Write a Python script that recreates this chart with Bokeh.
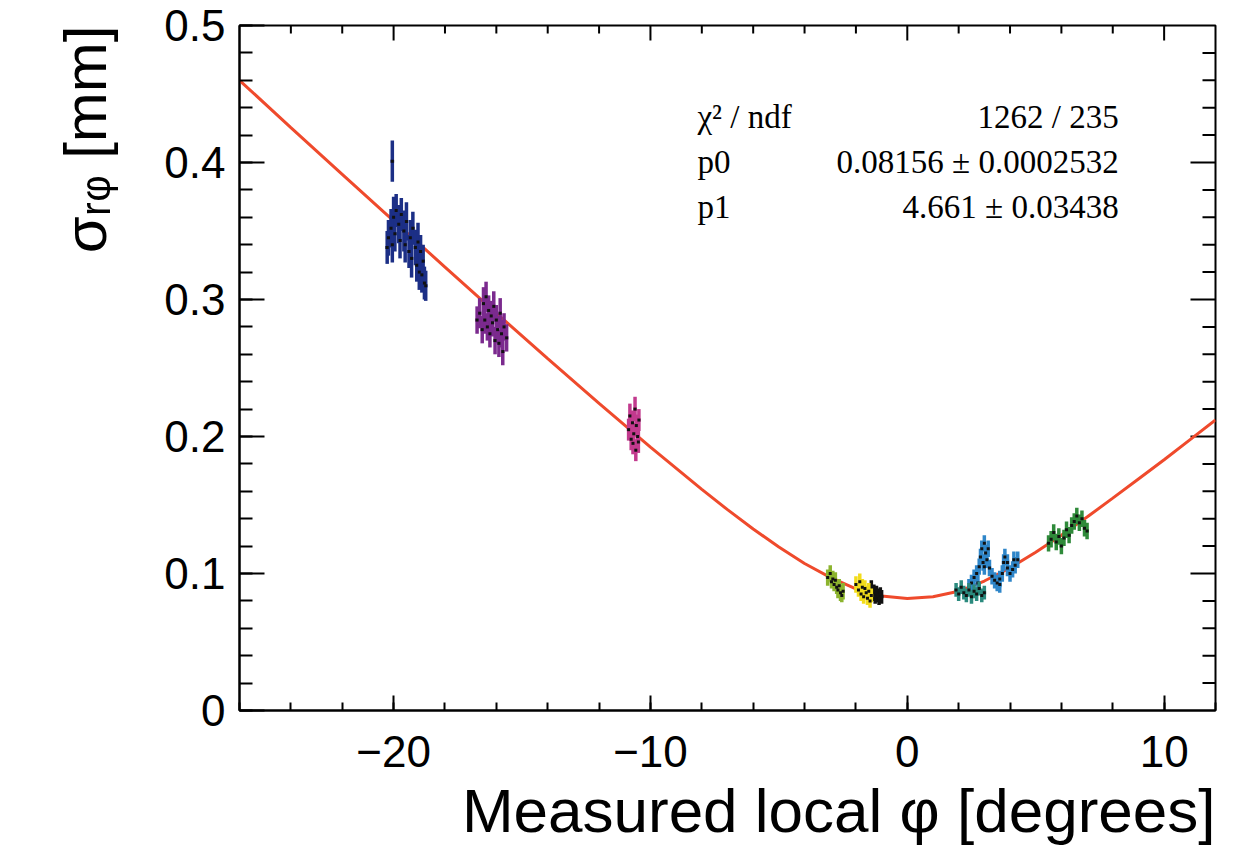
from bokeh.plotting import figure
from bokeh.models import Range1d, SingleIntervalTicker, Label, Title
from bokeh.embed import file_html
from bokeh.resources import INLINE
import numpy as np

# ---- fit curve ----
fit_phi = [-26, -24, -22, -20, -18, -16, -14, -12, -10, -8, -7, -6, -5, -4, -3, -2, -1, 0,
           1, 2, 3, 4, 5, 6, 7, 8, 9, 10, 11, 12]
fit_sigma = [0.460, 0.4255, 0.3914, 0.3574, 0.3237, 0.2901, 0.2569, 0.2242, 0.1922, 0.1614,
             0.1466, 0.1325, 0.1193, 0.1073, 0.0972, 0.0887, 0.0835, 0.0818,
             0.0830, 0.0870, 0.0945, 0.1040, 0.1155, 0.1280, 0.1412, 0.1550, 0.1690,
             0.1830, 0.1975, 0.2120]

# ---- data clusters ----
navy_phi = [-20.05, -20.25, -20.2, -20.1, -20.05, -20.0, -19.95, -19.9, -19.8, -19.75, -19.7, -19.6,
            -19.55, -19.5, -19.4, -19.35, -19.3, -19.25, -19.15, -19.1, -19.05, -19.0, -18.95,
            -18.9, -18.85, -18.8, -18.75]
navy_sigma = [0.401, 0.338, 0.345, 0.352, 0.340, 0.360, 0.348, 0.365, 0.355, 0.343, 0.362, 0.350,
              0.340, 0.357, 0.335, 0.345, 0.330, 0.352, 0.338, 0.325, 0.342, 0.320, 0.335,
              0.318, 0.328, 0.312, 0.310]
navy_err = [0.015, 0.012, 0.013, 0.014, 0.013, 0.015, 0.013, 0.012, 0.014, 0.013, 0.012, 0.015,
            0.013, 0.014, 0.012, 0.013, 0.014, 0.012, 0.013, 0.012, 0.014, 0.013, 0.012,
            0.013, 0.012, 0.012, 0.011]

purple_phi = [-16.75, -16.65, -16.55, -16.5, -16.45, -16.4, -16.35, -16.3, -16.25, -16.2, -16.15,
              -16.1, -16.05, -16.0, -15.95, -15.9, -15.85, -15.8, -15.75, -15.7, -15.6]
purple_sigma = [0.285, 0.290, 0.278, 0.297, 0.285, 0.302, 0.280, 0.292, 0.275, 0.288, 0.283,
                0.295, 0.270, 0.285, 0.278, 0.268, 0.290, 0.275, 0.262, 0.280, 0.272]
purple_err = [0.010, 0.011, 0.010, 0.012, 0.010, 0.011, 0.010, 0.011, 0.010, 0.011, 0.010,
              0.011, 0.010, 0.011, 0.010, 0.010, 0.011, 0.010, 0.010, 0.010, 0.010]

magenta_phi = [-10.85, -10.8, -10.75, -10.7, -10.68, -10.65, -10.6, -10.57, -10.55, -10.5, -10.47, -10.45]
magenta_sigma = [0.205, 0.215, 0.198, 0.210, 0.195, 0.202, 0.220, 0.190, 0.208, 0.200, 0.196, 0.212]
magenta_err = [0.008, 0.009, 0.008, 0.009, 0.008, 0.008, 0.009, 0.008, 0.008, 0.009, 0.008, 0.008]

lime_phi = [-3.1, -3.0, -2.95, -2.9, -2.85, -2.8, -2.75, -2.7, -2.65, -2.6, -2.55, -2.5]
lime_sigma = [0.097, 0.100, 0.094, 0.096, 0.092, 0.095, 0.090, 0.088, 0.091, 0.086, 0.084, 0.087]
lime_err = [0.006, 0.006, 0.005, 0.006, 0.005, 0.006, 0.005, 0.006, 0.005, 0.006, 0.005, 0.006]

black_phi = [-1.5, -1.4, -1.35, -1.3, -1.25, -1.2, -1.15, -1.1, -1.05, -1.0]
black_sigma = [0.088, 0.090, 0.085, 0.087, 0.083, 0.086, 0.084, 0.082, 0.085, 0.083]
black_err = [0.005, 0.005, 0.005, 0.005, 0.005, 0.005, 0.005, 0.005, 0.005, 0.005]

yellow_phi = [-2.0, -1.9, -1.85, -1.8, -1.75, -1.7, -1.65, -1.6, -1.55, -1.5, -1.45, -1.4]
yellow_sigma = [0.092, 0.088, 0.094, 0.085, 0.090, 0.083, 0.089, 0.086, 0.082, 0.087, 0.080, 0.084]
yellow_err = [0.006, 0.005, 0.006, 0.005, 0.006, 0.005, 0.006, 0.005, 0.005, 0.006, 0.005, 0.005]

sky_phi = [2.4, 2.5, 2.6, 2.7, 2.75, 2.8, 2.85, 2.9, 2.95, 3.0, 3.0, 3.05, 3.1, 3.15, 3.2, 3.3,
           3.4, 3.5, 3.6, 3.6, 3.7, 3.75, 3.8, 3.9, 3.9, 4.0, 4.1, 4.15, 4.2, 4.3]
sky_sigma = [0.090, 0.093, 0.097, 0.100, 0.093, 0.105, 0.112, 0.118, 0.108, 0.122, 0.105, 0.115,
             0.110, 0.118, 0.104, 0.098, 0.095, 0.093, 0.096, 0.092, 0.100, 0.108, 0.112,
             0.104, 0.108, 0.100, 0.103, 0.110, 0.106, 0.110]
sky_err = [0.006] * 30

teal_phi = [1.9, 2.0, 2.1, 2.2, 2.3, 2.4, 2.5, 2.6, 2.7, 2.8, 2.9, 3.0]
teal_sigma = [0.088, 0.085, 0.090, 0.086, 0.084, 0.088, 0.083, 0.087, 0.085, 0.089, 0.084, 0.086]
teal_err = [0.005] * 12

green_phi = [5.5, 5.6, 5.7, 5.8, 5.9, 6.0, 6.1, 6.2, 6.3, 6.4, 6.5, 6.6, 6.7, 6.8, 6.9, 7.0]
green_sigma = [0.122, 0.125, 0.130, 0.123, 0.127, 0.120, 0.126, 0.132, 0.128, 0.135, 0.138, 0.142,
               0.137, 0.140, 0.133, 0.131]
green_err = [0.006] * 16

# ---- stats box ----
stat_names = ["χ² / ndf", "p0", "p1"]
stat_values = ["1262 / 235", "0.08156 ± 0.0002532", "4.661 ± 0.03438"]

x_tick_labels = {-20: "−20", -10: "−10", 0: "0", 10: "10"}
y_tick_labels = {0: "0"}
x_title = "Measured local φ [degrees]"
y_title = "σᵣᵩ [mm]"

SANS = "Liberation Sans"
SERIF = "Liberation Serif"

X0, X1, Y0, Y1 = -26, 12, 0, 0.5
p = figure(width=1240, height=860, x_range=Range1d(X0, X1), y_range=Range1d(Y0, Y1),
           output_backend="svg", toolbar_location=None,
           min_border_left=239, min_border_right=25, min_border_top=25, min_border_bottom=150)
p.background_fill_color = "white"
p.border_fill_color = "white"
p.outline_line_color = "black"
p.outline_line_width = 2
p.xgrid.visible = False
p.ygrid.visible = False


def style_axis(ax, interval, tin, tmin):
    ax.ticker = SingleIntervalTicker(interval=interval, num_minor_ticks=5)
    ax.major_tick_in = tin
    ax.major_tick_out = 0
    ax.minor_tick_in = tmin
    ax.minor_tick_out = 0
    ax.axis_line_width = 2
    ax.major_tick_line_width = 2
    ax.minor_tick_line_width = 2
    ax.major_label_text_font = SANS
    ax.major_label_text_color = "black"
    ax.major_label_text_font_size = "44px"


style_axis(p.xaxis[0], 10, 15, 8)
p.xaxis[0].major_label_overrides = x_tick_labels
p.xaxis[0].major_label_standoff = 25
style_axis(p.yaxis[0], 0.1, 25, 13)
p.yaxis[0].major_label_overrides = y_tick_labels
p.yaxis[0].major_label_standoff = 14

# y title (ROOT style: aligned to the top end of the axis)
p.add_layout(Title(text=y_title, align="right", text_font=SANS, text_font_size="60px",
                   text_font_style="normal", text_color="black", standoff=86), "left")

# mirrored ticks on top and right edges (ROOT style), from the same tick spacing
fw = 1240 - 239 - 25
fh = 860 - 25 - 150
xpx = fw / (X1 - X0)
ypx = fh / (Y1 - Y0)
xt = np.arange(X0 + 2, X1, 2.0)
xmaj = np.isclose(np.mod(xt, 10), 0)
xlen = np.where(xmaj, 15, 8) / ypx
p.segment(x0=xt, y0=Y1, x1=xt, y1=Y1 - xlen, line_color="black", line_width=2)
yt = np.arange(1, 25) * 0.02
ymaj = np.isclose(np.mod(np.round(yt * 50), 5), 0)
ylen = np.where(ymaj, 25, 13) / xpx
p.segment(x0=X1, y0=yt, x1=X1 - ylen, y1=yt, line_color="black", line_width=2)

# fit curve
p.line(fit_phi, fit_sigma, line_color="#ef4a2c", line_width=3)

clusters = [
    (navy_phi, navy_sigma, navy_err, "#1c2f86"),
    (purple_phi, purple_sigma, purple_err, "#7b2a8e"),
    (magenta_phi, magenta_sigma, magenta_err, "#c23a8e"),
    (lime_phi, lime_sigma, lime_err, "#8cb42e"),
    (black_phi, black_sigma, black_err, "#111111"),
    (yellow_phi, yellow_sigma, yellow_err, "#f2dc1c"),
    (sky_phi, sky_sigma, sky_err, "#2f86c9"),
    (teal_phi, teal_sigma, teal_err, "#2b8a7e"),
    (green_phi, green_sigma, green_err, "#2f8a3a"),
]
for xs, ys, es, col in clusters:
    lo = [y - e for y, e in zip(ys, es)]
    hi = [y + e for y, e in zip(ys, es)]
    p.segment(x0=xs, y0=lo, x1=xs, y1=hi, line_color=col, line_width=3.5)
    p.segment(x0=[x - 0.07 for x in xs], y0=ys, x1=[x + 0.07 for x in xs], y1=ys,
              line_color=col, line_width=3)
    p.scatter(xs, ys, size=3, marker="square", fill_color="#111111", line_color=None)

# stats
stat_y = [0.4335, 0.4003, 0.3674]
for name, val, yy in zip(stat_names, stat_values, stat_y):
    p.add_layout(Label(x=-8.17, y=yy, text=name, text_font=SERIF, text_font_size="33px",
                       text_align="left", text_baseline="middle", text_color="black"))
    p.add_layout(Label(x=8.23, y=yy, text=val, text_font=SERIF, text_font_size="33px",
                       text_align="right", text_baseline="middle", text_color="black"))

# x title (ROOT style: aligned to the right end of the axis)
p.add_layout(Title(text=x_title, align="right", text_font=SANS, text_font_size="62px",
                   text_font_style="normal", text_color="black", standoff=8), "below")

open("out.html", "w").write(file_html(p, INLINE))
